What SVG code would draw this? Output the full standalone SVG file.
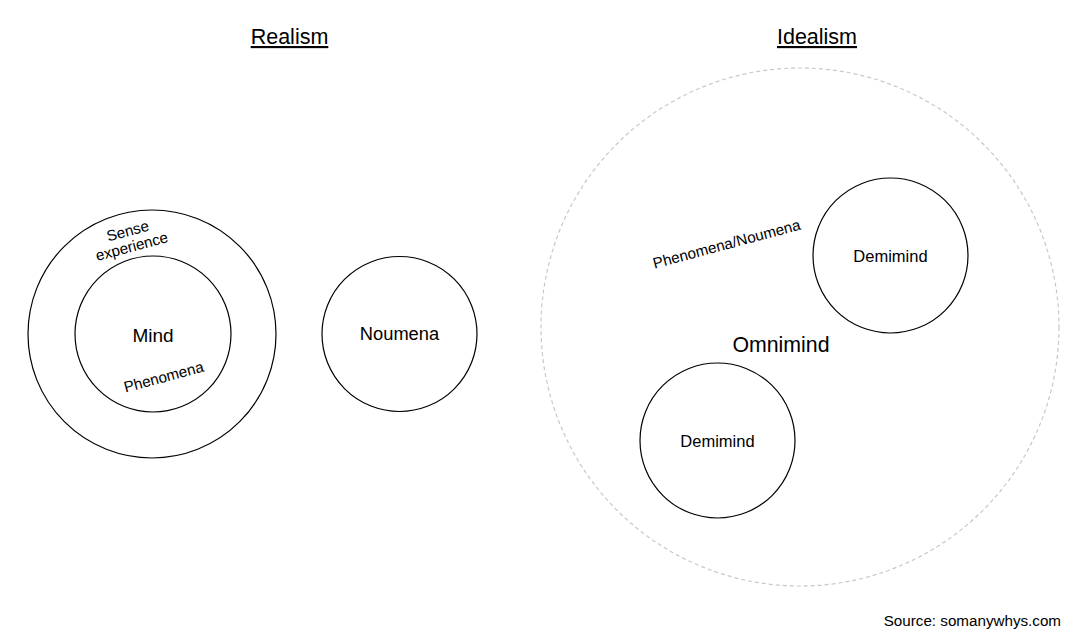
<svg xmlns="http://www.w3.org/2000/svg" width="1066" height="633" viewBox="0 0 1066 633">
<style>
text{font-family:"Liberation Sans",Arial,sans-serif;fill:#000;text-anchor:middle}
.c{fill:#fff;stroke:#000;stroke-width:1.2}
.d{fill:none;stroke:#c8c8c8;stroke-width:1.2;stroke-dasharray:4 3}
.t{font-size:21.5px;text-decoration:underline}
.s{font-size:15.2px}
.m{font-size:16.5px}
</style>
<rect width="1066" height="633" fill="#fff"/>
<g id="titles">
<text class="t" x="289.5" y="44">Realism</text>
<text class="t" x="817" y="44">Idealism</text>
</g>
<g id="sense">
<circle class="c" cx="152" cy="334" r="124"/>
<text class="s" transform="translate(129,236) rotate(-15)"><tspan x="0" y="0">Sense</tspan><tspan x="0" y="16">experience</tspan></text>
</g>
<g id="mind">
<circle class="c" cx="153" cy="334" r="78"/>
<text x="153" y="342" style="font-size:19px">Mind</text>
<text class="s" transform="translate(165,382) rotate(-15)">Phenomena</text>
</g>
<g id="noumena">
<circle class="c" cx="399.5" cy="334" r="77.5"/>
<text x="399.5" y="340" style="font-size:18.3px">Noumena</text>
</g>
<g id="omnimind">
<circle class="d" cx="800" cy="327" r="259"/>
<text x="781" y="352" style="font-size:21.3px">Omnimind</text>
<text class="s" transform="translate(728,249) rotate(-15)">Phenomena/Noumena</text>
</g>
<g id="demimind1">
<circle class="c" cx="890.5" cy="255.5" r="77.5"/>
<text class="m" x="890.5" y="261.5">Demimind</text>
</g>
<g id="demimind2">
<circle class="c" cx="717.5" cy="440.5" r="77.5"/>
<text class="m" x="717.5" y="446.5">Demimind</text>
</g>
<g id="connectors"/>
<text x="1061" y="626" style="text-anchor:end;font-size:15.2px">Source: somanywhys.com</text>
</svg>
